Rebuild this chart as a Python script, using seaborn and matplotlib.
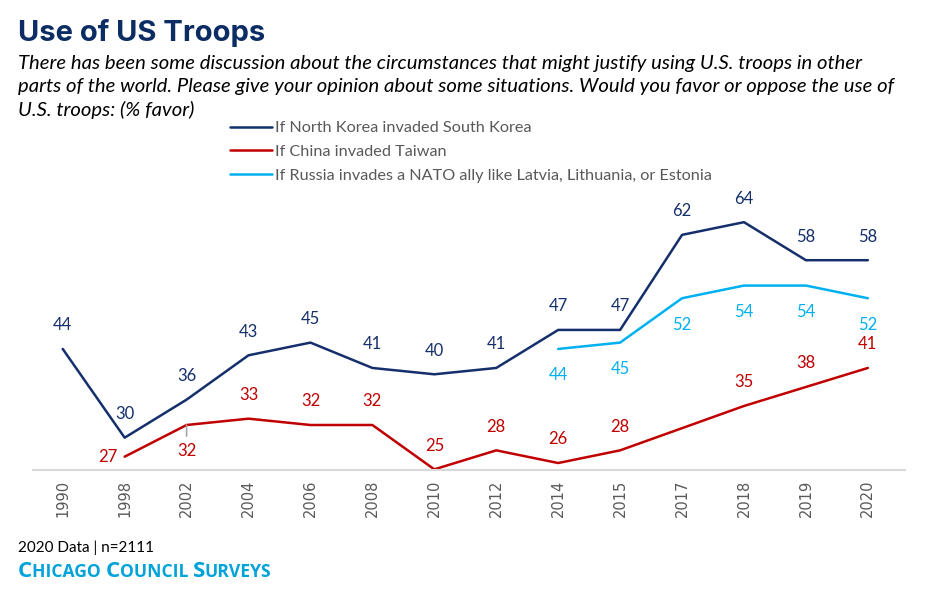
import numpy as np
import pandas as pd
import matplotlib
matplotlib.use("Agg")
import matplotlib.pyplot as plt
import seaborn as sns
from matplotlib.lines import Line2D

years = ['1990', '1998', '2002', '2004', '2006', '2008', '2010', '2012',
         '2014', '2015', '2017', '2018', '2019', '2020']
north_korea = [44, 30, 36, 43, 45, 41, 40, 41, 47, 47, 62, 64, 58, 58]
china_taiwan = [np.nan, 27, 32, 33, 32, 32, 25, 28, 26, 28, np.nan, 35, 38, 41]
russia_nato = [np.nan] * 8 + [44, 45, 52, 54, 54, 52]

series_names = ['If North Korea invaded South Korea',
                'If China invaded Taiwan',
                'If Russia invades a NATO ally like Latvia, Lithuania, or Estonia']
colors = ['#142F6B', '#C00000', '#00B0F0']

sns.set_theme(style="white")
plt.rcParams['font.family'] = ['Lato', 'DejaVu Sans']

rows = []
for name, vals in zip(series_names, [north_korea, china_taiwan, russia_nato]):
    for i, (y, v) in enumerate(zip(years, vals)):
        if not np.isnan(v):
            rows.append({'idx': i, 'year': y, 'value': v, 'series': name})
df = pd.DataFrame(rows)

fig = plt.figure(figsize=(9.36, 5.90), dpi=100)
ax = fig.add_axes([33 / 936, 1 - 470 / 590, (905 - 33) / 936, (470 - 200) / 590])

sns.lineplot(data=df, x='idx', y='value', hue='series', hue_order=series_names,
             palette=colors, linewidth=1.8, legend=False, ax=ax, sort=True)

ax.set_xlim(-0.48, 13.6)
ax.set_ylim(24.9, 67.5)
ax.set_xticks(range(len(years)))
ax.set_xticklabels(years, rotation=90, color='#595959', fontsize=10.5,
                   family=['DejaVu Sans'])
ax.tick_params(axis='x', length=0, pad=7)
ax.set_yticks([])
ax.set_xlabel('')
ax.set_ylabel('')
for s in ['top', 'right', 'left']:
    ax.spines[s].set_visible(False)
ax.spines['bottom'].set_color('#D9D9D9')
ax.spines['bottom'].set_linewidth(1.5)

lab_fs = 12
# North Korea labels above
for i, v in enumerate(north_korea):
    ax.annotate(f"{v}", (i, v), xytext=(0, 17), textcoords='offset points',
                ha='center', va='center', color=colors[0], fontsize=lab_fs)
# China labels
for i, v in enumerate(china_taiwan):
    if np.isnan(v):
        continue
    if years[i] == '1998':
        off = (-12, 0)
    elif years[i] == '2002':
        off = (0, -19)
    else:
        off = (0, 17)
    ax.annotate(f"{int(v)}", (i, v), xytext=off, textcoords='offset points',
                ha='center', va='center', color=colors[1], fontsize=lab_fs)
# leader line for 2002
ax.annotate("", xy=(2, china_taiwan[2]), xytext=(0, -8), textcoords='offset points',
            arrowprops=dict(arrowstyle='-', color='#A6A6A6', lw=1.2, shrinkA=0, shrinkB=0))
# Russia labels below
for i, v in enumerate(russia_nato):
    if np.isnan(v):
        continue
    ax.annotate(f"{int(v)}", (i, v), xytext=(0, -19), textcoords='offset points',
                ha='center', va='center', color=colors[2], fontsize=lab_fs)

# Legend
handles = [Line2D([0], [0], color=c, lw=1.8) for c in colors]
leg = fig.legend(handles, series_names, loc='upper left',
                 bbox_to_anchor=(230 / 936, 1 - 121 / 590), frameon=False,
                 handlelength=2.6, handletextpad=0.15, labelspacing=0.58,
                 fontsize=11.7, borderaxespad=0, borderpad=0)
for t in leg.get_texts():
    t.set_color('#595959')

# Title and subtitle
fig.text(18 / 936, 1 - 33 / 590, "Use of US Troops", fontsize=21, fontweight='bold',
         color='#0B2D64', va='center', ha='left', family=['Inter', 'DejaVu Sans'])
subtitle = ("There has been some discussion about the circumstances that might justify using U.S. troops in other\n"
            "parts of the world. Please give your opinion about some situations. Would you favor or oppose the use of\n"
            "U.S. troops: (% favor)")
fig.text(18 / 936, 1 - 55 / 590, subtitle, fontsize=14.6, style='italic', color='black',
         va='top', ha='left', linespacing=1.4, family=['Lato', 'DejaVu Sans'])

# Footer
fig.text(18 / 936, 1 - 548 / 590, "2020 Data | n=2111", fontsize=11, color='black',
         va='center', ha='left', family=['Lato', 'DejaVu Sans'])

renderer = fig.canvas.get_renderer()
x = 18 / 936
ybase = 1 - 577 / 590
parts = [("C", 16.2), ("HICAGO ", 12.6), ("C", 16.2), ("OUNCIL ", 12.6), ("S", 16.2), ("URVEYS", 12.6)]
for txt, fs in parts:
    t = fig.text(x, ybase, txt, fontsize=fs, fontweight='bold', color='#00A3D9',
                 va='baseline', ha='left', family=['Open Sans', 'DejaVu Sans'])
    bb = t.get_window_extent(renderer=renderer)
    x += bb.width / fig.bbox.width

fig.savefig("out.png", dpi=100)
